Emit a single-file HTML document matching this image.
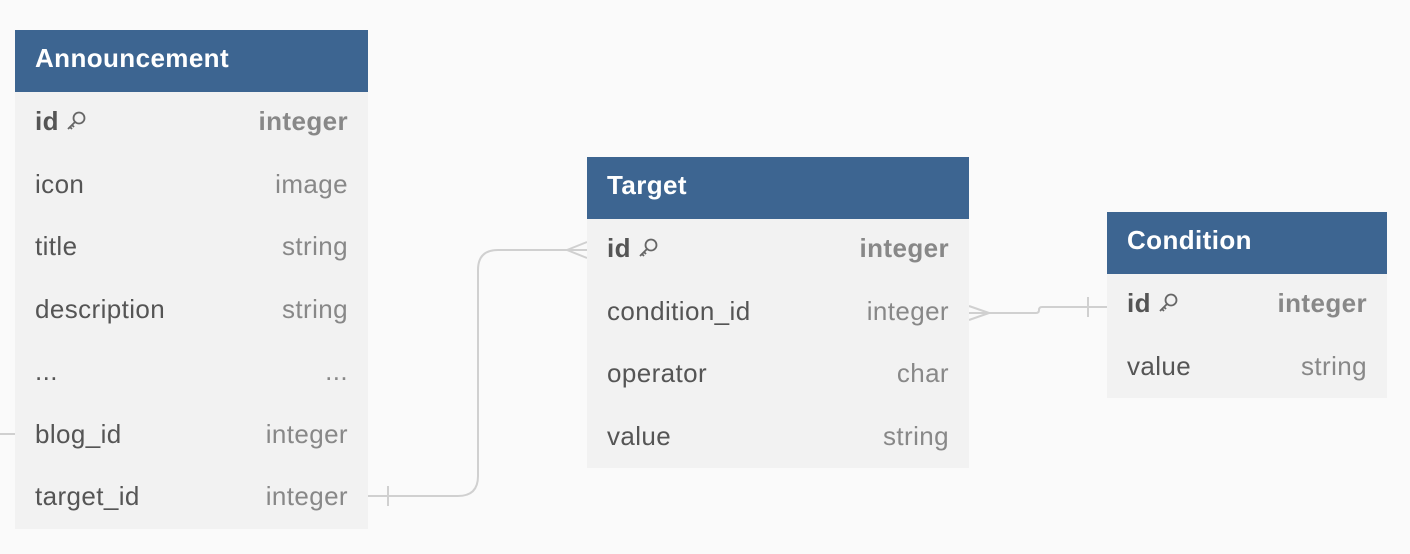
<!DOCTYPE html>
<html><head><style>
body{margin:0;width:1410px;height:554px;background:#fafafa;font-family:"Liberation Sans",sans-serif;position:relative;overflow:hidden}
.t{position:absolute;background:#f2f2f2}
.h{background:#3d6591;color:#fff;font-weight:bold;font-size:26px;letter-spacing:0.4px;height:62px;line-height:56px;padding-left:20px}
.r{height:62.5px;box-sizing:border-box;padding-bottom:3px;display:flex;justify-content:space-between;align-items:center;padding-left:20px;padding-right:20px;font-size:26px;letter-spacing:0.4px;color:#555}
.r span:last-child{color:#888}
.b span{font-weight:bold}
.k{display:inline-block;vertical-align:-2px;margin-left:6px}
</style></head><body>
<svg width="1410" height="554" style="position:absolute;left:0;top:0" fill="none" stroke="#d0d0d0" stroke-width="2">
<path d="M0 434H15"/>
<path d="M368 496H458Q478 496 478 476V270Q478 250 498 250H587"/>
<path d="M567 250L587 242M567 250L587 258M388 486V506"/>
<path d="M969 313H1036Q1039 313 1039 310Q1039 307 1042 307H1107"/>
<path d="M989 313L969 306M989 313L969 320M1088 297V317"/>
</svg>
<div class="t" style="left:15px;top:30px;width:353px;height:499px">
<div class="h">Announcement</div>
<div class="r b"><span>id<svg class="k" width="22" height="22" viewBox="0 0 22 22" fill="none" stroke="#666" stroke-width="1.8"><circle cx="14" cy="8" r="5.5"/><path d="M10 12L3 19M5 17l2 2M7 15l2 2"/></svg></span><span>integer</span></div>
<div class="r"><span>icon</span><span>image</span></div>
<div class="r"><span>title</span><span>string</span></div>
<div class="r"><span>description</span><span>string</span></div>
<div class="r"><span>...</span><span>...</span></div>
<div class="r"><span>blog_id</span><span>integer</span></div>
<div class="r"><span>target_id</span><span>integer</span></div>
</div>
<div class="t" style="left:587px;top:157px;width:382px;height:311px">
<div class="h">Target</div>
<div class="r b"><span>id<svg class="k" width="22" height="22" viewBox="0 0 22 22" fill="none" stroke="#666" stroke-width="1.8"><circle cx="14" cy="8" r="5.5"/><path d="M10 12L3 19M5 17l2 2M7 15l2 2"/></svg></span><span>integer</span></div>
<div class="r"><span>condition_id</span><span>integer</span></div>
<div class="r"><span>operator</span><span>char</span></div>
<div class="r"><span>value</span><span>string</span></div>
</div>
<div class="t" style="left:1107px;top:212px;width:280px;height:186px">
<div class="h">Condition</div>
<div class="r b"><span>id<svg class="k" width="22" height="22" viewBox="0 0 22 22" fill="none" stroke="#666" stroke-width="1.8"><circle cx="14" cy="8" r="5.5"/><path d="M10 12L3 19M5 17l2 2M7 15l2 2"/></svg></span><span>integer</span></div>
<div class="r"><span>value</span><span>string</span></div>
</div>
</body></html>
